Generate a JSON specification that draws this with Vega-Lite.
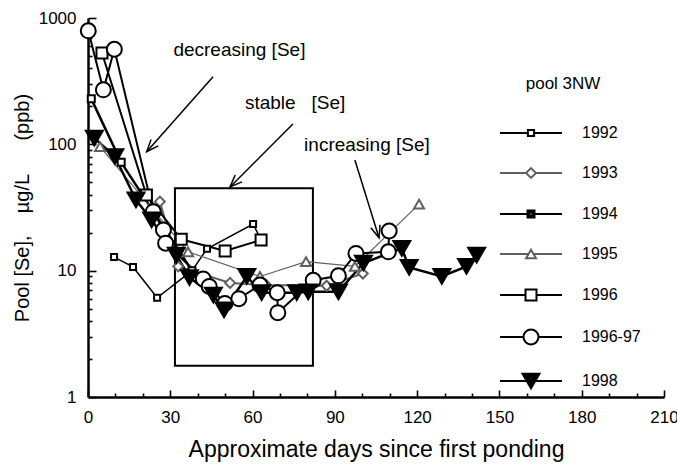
{
  "$schema": "https://vega.github.io/schema/vega-lite/v6.json",
  "width": 576,
  "height": 379,
  "autosize": {"type": "none"},
  "padding": {"left": 88, "top": 18, "right": 13, "bottom": 69},
  "config": {
    "font": "Liberation Sans",
    "view": {"stroke": null},
    "axis": {
      "domainColor": "black", "domainWidth": 2.5, "tickColor": "black", "tickWidth": 1.6,
      "labelColor": "black", "labelFontSize": 17, "titleColor": "black", "titleFontWeight": "normal",
      "grid": false
    }
  },
  "datasets": {
    "pool": [
      {"series": "1992", "day": 9.5, "se": 12.8}, {"series": "1992", "day": 16.4, "se": 10.7}, {"series": "1992", "day": 25.2, "se": 6.1},
      {"series": "1992", "day": 37.9, "se": 10.0}, {"series": "1992", "day": 43.4, "se": 14.9}, {"series": "1992", "day": 60.2, "se": 23.4},
      {"series": "1992", "day": 63.1, "se": 17.5},
      {"series": "1993", "day": 26.2, "se": 35.2}, {"series": "1993", "day": 32.9, "se": 10.8}, {"series": "1993", "day": 51.8, "se": 8.0},
      {"series": "1993", "day": 64.9, "se": 7.7}, {"series": "1993", "day": 87.0, "se": 7.6}, {"series": "1993", "day": 100.2, "se": 9.5},
      {"series": "1994", "day": 1.2, "se": 229}, {"series": "1994", "day": 12.1, "se": 72}, {"series": "1994", "day": 37.9, "se": 10.0},
      {"series": "1995", "day": 4.4, "se": 96}, {"series": "1995", "day": 36.5, "se": 14.1}, {"series": "1995", "day": 62.7, "se": 9.0},
      {"series": "1995", "day": 79.5, "se": 11.8}, {"series": "1995", "day": 97.3, "se": 10.8}, {"series": "1995", "day": 120.7, "se": 33.6},
      {"series": "1996", "day": 5.1, "se": 528}, {"series": "1996", "day": 21.3, "se": 39.7}, {"series": "1996", "day": 34.0, "se": 17.7},
      {"series": "1996", "day": 50.0, "se": 14.3}, {"series": "1996", "day": 63.1, "se": 17.5},
      {"series": "1996-97", "day": 0.1, "se": 791}, {"series": "1996-97", "day": 5.6, "se": 270}, {"series": "1996-97", "day": 9.6, "se": 566},
      {"series": "1996-97", "day": 23.8, "se": 29.3}, {"series": "1996-97", "day": 27.5, "se": 21.0}, {"series": "1996-97", "day": 28.3, "se": 16.5},
      {"series": "1996-97", "day": 42.0, "se": 8.6}, {"series": "1996-97", "day": 44.2, "se": 7.5}, {"series": "1996-97", "day": 49.9, "se": 5.5},
      {"series": "1996-97", "day": 55.0, "se": 6.0}, {"series": "1996-97", "day": 62.7, "se": 7.7}, {"series": "1996-97", "day": 69.0, "se": 6.7},
      {"series": "1996-97", "day": 69.2, "se": 4.65}, {"series": "1996-97", "day": 82.1, "se": 8.4}, {"series": "1996-97", "day": 91.3, "se": 9.1},
      {"series": "1996-97", "day": 97.7, "se": 13.7}, {"series": "1996-97", "day": 109.5, "se": 14.1}, {"series": "1996-97", "day": 109.8, "se": 20.6},
      {"series": "1998", "day": 2.3, "se": 112}, {"series": "1998", "day": 9.8, "se": 80}, {"series": "1998", "day": 17.5, "se": 36.3},
      {"series": "1998", "day": 23.2, "se": 25.2}, {"series": "1998", "day": 32.2, "se": 13.3}, {"series": "1998", "day": 37.0, "se": 8.8},
      {"series": "1998", "day": 45.7, "se": 6.4}, {"series": "1998", "day": 49.6, "se": 4.9}, {"series": "1998", "day": 57.9, "se": 9.0},
      {"series": "1998", "day": 63.3, "se": 6.7}, {"series": "1998", "day": 76.1, "se": 6.7}, {"series": "1998", "day": 80.3, "se": 6.8},
      {"series": "1998", "day": 91.3, "se": 6.8}, {"series": "1998", "day": 100.4, "se": 11.5}, {"series": "1998", "day": 114.4, "se": 15.0},
      {"series": "1998", "day": 117.1, "se": 10.6}, {"series": "1998", "day": 129.0, "se": 9.0}, {"series": "1998", "day": 138.0, "se": 10.8},
      {"series": "1998", "day": 141.7, "se": 13.3}
    ],
    "notes": [
      {"label": "decreasing [Se]", "day": 55.2, "se": 559},
      {"label": "stable\u00a0\u00a0\u00a0[Se]", "day": 75.5, "se": 213},
      {"label": "increasing [Se]", "day": 101.7, "se": 98.9},
      {"label": "pool 3NW", "day": 173.2, "se": 301}
    ],
    "arrows": [
      {"name": "decreasing", "day": 45.6, "se": 342, "day2": 21.4, "se2": 87.5},
      {"name": "stable", "day": 74.7, "se": 145, "day2": 51.8, "se2": 46.0},
      {"name": "increasing", "day": 97.3, "se": 75.2, "day2": 106.1, "se2": 18.2}
    ],
    "heads": [
      {"name": "decreasing", "day": 21.4, "se": 87.5},
      {"name": "stable", "day": 51.8, "se": 46.0},
      {"name": "increasing", "day": 106.1, "se": 18.2}
    ],
    "box": [
      {"day": 31.7, "day2": 82.0, "se": 45, "se2": 1.77}
    ]
  },
  "encoding": {
    "x": {
      "field": "day", "type": "quantitative",
      "scale": {"domain": [0, 210], "nice": false, "zero": false},
      "axis": {
        "title": "Approximate days since first ponding",
        "values": [0, 10, 20, 30, 40, 50, 60, 70, 80, 90, 100, 110, 120, 130, 140, 150, 160, 170, 180, 190, 200, 210],
        "labelExpr": "datum.value % 30 === 0 ? datum.label : ''",
        "tickSize": {"condition": {"test": "datum.value % 30 === 0", "value": -7}, "value": -4},
        "labelPadding": 19, "labelFlush": false, "labelOverlap": false,
        "titlePadding": 10, "titleFontSize": 23
      }
    },
    "y": {
      "field": "se", "type": "quantitative",
      "scale": {"type": "log", "domain": [1, 1000], "nice": false},
      "axis": {
        "title": "Pool [Se],\u00a0\u00a0\u00a0\u00a0µg/L\u00a0\u00a0\u00a0\u00a0\u00a0\u00a0(ppb)",
        "values": [1, 2, 3, 4, 5, 6, 7, 8, 9, 10, 20, 30, 40, 50, 60, 70, 80, 90, 100, 200, 300, 400, 500, 600, 700, 800, 900, 1000],
        "format": "d",
        "labelExpr": "indexof([1,10,100,1000], datum.value) >= 0 ? datum.label : ''",
        "tickSize": {"condition": {"test": "indexof([1,10,100,1000], datum.value) >= 0", "value": -8}, "value": -4},
        "labelPadding": 20, "labelOverlap": false,
        "titlePadding": 6, "titleFontSize": 20
      }
    }
  },
  "layer": [
    {
      "data": {"name": "box"},
      "mark": {"type": "rect", "filled": false, "stroke": "black", "strokeWidth": 2},
      "encoding": {"x2": {"field": "day2"}, "y2": {"field": "se2"}}
    },
    {
      "data": {"name": "pool"},
      "mark": {"type": "line"},
      "encoding": {
        "detail": {"field": "series", "type": "nominal"},
        "stroke": {"condition": {"test": "datum.series === '1993' || datum.series === '1995'", "value": "#606060"}, "value": "black"},
        "strokeWidth": {"condition": [
          {"test": "datum.series === '1995'", "value": 1.2},
          {"test": "datum.series === '1992'", "value": 1.5},
          {"test": "datum.series === '1994' || datum.series === '1998'", "value": 2.5}
        ], "value": 2}
      }
    },
    {
      "data": {"name": "pool"},
      "mark": {"type": "point", "filled": true, "opacity": 1, "strokeWidth": 2},
      "encoding": {
        "stroke": {"condition": {"test": "datum.series === '1993' || datum.series === '1995'", "value": "#606060"}, "value": "black"},
        "fill": {"condition": {"test": "datum.series === '1998'", "value": "black"}, "value": "white"},
        "size": {"condition": [
          {"test": "datum.series === '1992'", "value": 36},
          {"test": "datum.series === '1994'", "value": 49},
          {"test": "datum.series === '1996'", "value": 121},
          {"test": "datum.series === '1996-97'", "value": 225},
          {"test": "datum.series === '1998'", "value": 289}
        ], "value": 100},
        "shape": {"condition": [
          {"test": "datum.series === '1993'", "value": "diamond"},
          {"test": "datum.series === '1995'", "value": "triangle-up"},
          {"test": "datum.series === '1996-97'", "value": "circle"},
          {"test": "datum.series === '1998'", "value": "triangle-down"}
        ], "value": "square"}
      }
    },
    {
      "data": {"name": "pool"},
      "mark": {"type": "point", "filled": true, "fill": "white", "strokeWidth": 2, "opacity": 0, "size": 1},
      "encoding": {
        "stroke": {"field": "series", "type": "nominal",
          "scale": {"domain": ["1992", "1993", "1994", "1995", "1996", "1996-97", "1998"],
                    "range": ["black", "#606060", "black", "#606060", "black", "black", "black"]}},
        "shape": {"field": "series", "type": "nominal",
          "scale": {"domain": ["1992", "1993", "1994", "1995", "1996", "1996-97", "1998"],
                    "range": [
                      "M-1,0H-0.1M0.1,0H1M-0.1,-0.1H0.1V0.1H-0.1Z",
                      "M-1,0H-0.16M0.16,0H1M-0.16,0L0,-0.16L0.16,0L0,0.16Z",
                      "M-1,0H-0.113M0.113,0H1M-0.113,-0.113H0.113V0.113H-0.113ZM-0.05,-0.05H0.05V0.05H-0.05Z",
                      "M-1,0H-0.08M0.08,0H1M0,-0.14L0.16,0.14H-0.16Z",
                      "M-1,0H-0.177M0.177,0H1M-0.177,-0.177H0.177V0.177H-0.177Z",
                      "M-1,0H-0.242M0.242,0H1M-0.242,0A0.242,0.242,0,1,1,0.242,0A0.242,0.242,0,1,1,-0.242,0Z",
                      "M-1,0H1M-0.274,-0.237H0.274L0,0.237ZM-0.2055,-0.1975H0.2055L0,0.158ZM-0.137,-0.158H0.137L0,0.079ZM-0.0685,-0.1185H0.0685L0,0Z"
                    ]},
          "legend": {
            "title": null, "orient": "none", "legendX": 411, "legendY": 83, "padding": 0,
            "symbolSize": 3844, "symbolStrokeWidth": 2, "symbolOpacity": 1, "symbolFillColor": "white",
            "labelFontSize": 16, "labelOffset": 19,
            "rowPadding": -2.7, "labelColor": "black", "labelFont": "Liberation Sans"
          }
        }
      }
    },
    {
      "data": {"name": "arrows"},
      "mark": {"type": "rule", "stroke": "black", "strokeWidth": 1.5},
      "encoding": {"x2": {"field": "day2"}, "y2": {"field": "se2"}}
    },
    {
      "data": {"name": "heads"},
      "transform": [{"filter": "datum.name === 'decreasing'"}],
      "mark": {"type": "point", "shape": "M-1,-0.4L0,0L-1,0.4", "size": 576, "filled": false, "stroke": "black", "strokeWidth": 1.5, "opacity": 1, "angle": 131.6}
    },
    {
      "data": {"name": "heads"},
      "transform": [{"filter": "datum.name === 'stable'"}],
      "mark": {"type": "point", "shape": "M-1,-0.4L0,0L-1,0.4", "size": 576, "filled": false, "stroke": "black", "strokeWidth": 1.5, "opacity": 1, "angle": 135}
    },
    {
      "data": {"name": "heads"},
      "transform": [{"filter": "datum.name === 'increasing'"}],
      "mark": {"type": "point", "shape": "M-1,-0.4L0,0L-1,0.4", "size": 576, "filled": false, "stroke": "black", "strokeWidth": 1.5, "opacity": 1, "angle": 72.9}
    },
    {
      "data": {"name": "notes"},
      "transform": [{"filter": "datum.label !== 'pool 3NW'"}],
      "mark": {"type": "text", "fontSize": 19, "align": "center", "baseline": "middle", "color": "black"},
      "encoding": {"text": {"field": "label"}}
    },
    {
      "data": {"name": "notes"},
      "transform": [{"filter": "datum.label === 'pool 3NW'"}],
      "mark": {"type": "text", "fontSize": 17, "align": "center", "baseline": "middle", "color": "black"},
      "encoding": {"text": {"field": "label"}}
    }
  ]
}
